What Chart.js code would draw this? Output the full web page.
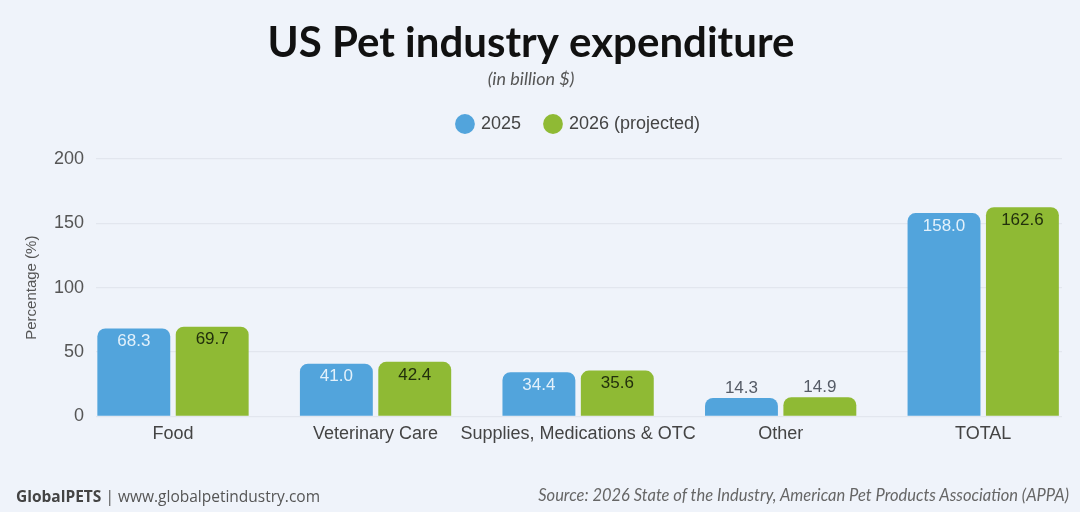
<!DOCTYPE html>
<html>
<head>
<meta charset="utf-8">
<script src="https://cdn.jsdelivr.net/npm/chart.js@4"></script>
<style>
  html, body { margin: 0; padding: 0; background: #eff3fa; }
  #wrap { position: relative; width: 1080px; height: 512px; }
  #c { position: absolute; left: 0; top: 0; }
  .foot { position: absolute; top: 485px; font-size: 15.5px; color: #555; font-family: 'Open Sans', sans-serif; }
  .foot.left { left: 16px; }
  .foot.left b { color: #444; }
  .foot.right { right: 11px; font-size: 16.5px; font-style: italic; color: #666; font-family: 'Lato', sans-serif; }
</style>
</head>
<body>
<div id="wrap">
  <canvas id="c" width="1080" height="512"></canvas>
  <div class="foot left"><b>GlobalPETS</b> | www.globalpetindustry.com</div>
  <div class="foot right">Source: 2026 State of the Industry, American Pet Products Association (APPA)</div>
</div>
<script>
// data
const kategori = ['Food', 'Veterinary Care', 'Supplies, Medications & OTC', 'Other', 'TOTAL'];
const nilai2025 = [68.3, 41.0, 34.4, 14.3, 158.0];
const nilai2026 = [69.7, 42.4, 35.6, 14.9, 162.6];
const yTicks = [0, 50, 100, 150, 200];
const xTicks = [0, 1, 2, 3, 4];

const BIRU = '#52a4dc';
const HIJAU = '#8fba34';
const FONT = "'Liberation Sans', Arial, sans-serif";

// label angka di atas / di dalam batang
const labelBatang = {
    id: 'labelBatang',
    afterDatasetsDraw(chart) {
        const ctx = chart.ctx;
        ctx.save();
        ctx.font = '17px ' + FONT;
        ctx.textAlign = 'center';
        ctx.textBaseline = 'middle';
        chart.data.datasets.forEach((ds, i) => {
            chart.getDatasetMeta(i).data.forEach((bar, j) => {
                const v = ds.data[j].y;
                const txt = v.toFixed(1);
                if (v < 20) {
                    ctx.fillStyle = '#555b66';
                    ctx.fillText(txt, bar.x, bar.y - 10);
                } else {
                    ctx.fillStyle = i === 0 ? '#e3f1fb' : '#22300c';
                    ctx.fillText(txt, bar.x, bar.y + 13);
                }
            });
        });
        ctx.restore();
    }
};

// tambah jarak di bawah legend
const jarakLegend = {
    id: 'jarakLegend',
    beforeLayout(chart) {
        const lg = chart.legend;
        if (lg && !lg._sudah) {
            const fitAsli = lg.fit;
            lg.fit = function() { fitAsli.call(this); this.height += 16; };
            lg._sudah = true;
        }
    }
};

const toPoints = arr => arr.map((v, i) => ({ x: xTicks[i], y: v }));

new Chart(document.getElementById('c'), {
    type: 'bar',
    data: {
        datasets: [
            { label: '2025', data: toPoints(nilai2025), backgroundColor: BIRU, borderRadius: 8, barPercentage: 0.93, categoryPercentage: 0.774 },
            { label: '2026 (projected)', data: toPoints(nilai2026), backgroundColor: HIJAU, borderRadius: 8, barPercentage: 0.93, categoryPercentage: 0.774 }
        ]
    },
    options: {
        responsive: false,
        animation: false,
        layout: { padding: { left: 0, right: 18, top: 0, bottom: 60 } },
        plugins: {
            title: {
                display: true,
                text: 'US Pet industry expenditure',
                color: '#111',
                font: { family: "'Lato', sans-serif", size: 42, weight: 'bold' },
                padding: { top: 18, bottom: 0 }
            },
            subtitle: {
                display: true,
                text: '(in billion $)',
                color: '#555',
                font: { family: "'Lato', sans-serif", size: 18, style: 'italic' },
                padding: { top: 0, bottom: 0 }
            },
            legend: {
                position: 'top',
                fullSize: false,
                labels: {
                    usePointStyle: true,
                    pointStyle: 'circle',
                    boxWidth: 14, boxHeight: 14,
                    padding: 25,
                    color: '#444',
                    font: { family: FONT, size: 18 }
                }
            },
            tooltip: { enabled: false }
        },
        scales: {
            x: {
                type: 'linear',
                offset: false,
                min: -0.38, max: 4.389,
                afterBuildTicks: ax => {
                    ax.ticks = xTicks.map(v => ({ value: v }));
                    ax.min = -0.38;
                    ax.max = 4.389;
                },
                grid: { display: false, drawTicks: false },
                border: { display: false },
                ticks: {
                    color: '#444', padding: 7, maxRotation: 0, autoSkip: false,
                    font: { family: FONT, size: 18 },
                    callback: v => kategori[v]
                }
            },
            y: {
                min: 0, max: 200,
                afterBuildTicks: ax => { ax.ticks = yTicks.map(v => ({ value: v })); },
                grid: { color: '#e2e6ee', lineWidth: 1.2, drawTicks: false },
                border: { display: false },
                ticks: { color: '#555', padding: 12, font: { family: FONT, size: 18 } },
                title: { display: true, text: 'Percentage (%)', color: '#555', padding: { top: 23, bottom: 1 }, font: { family: FONT, size: 15 } }
            }
        }
    },
    plugins: [labelBatang, jarakLegend]
});
</script>
</body>
</html>
